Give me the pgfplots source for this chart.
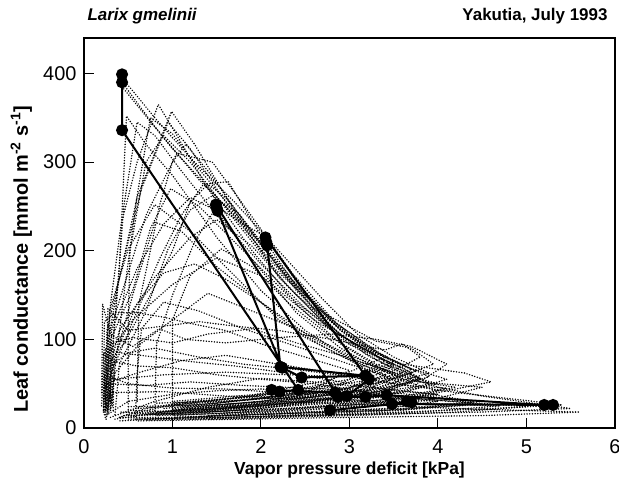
\documentclass[border=0pt]{standalone}
\usepackage{pgfplots}
\pgfplotsset{compat=1.18}
\usepackage{fontspec}
\setmainfont{Liberation Sans}

% one dotted diurnal course per measurement day
\pgfplotsset{
  day/.style={black, line width=1.6bp, line cap=round, dash pattern=on 0bp off 2.7bp, mark=none},
  sel/.style={black, line width=2bp, mark=*, mark size=5bp, mark options={solid, fill=black}},
}

\begin{document}
\begin{tikzpicture}
\path[use as bounding box] (-84bp,-62bp) rectangle (535bp,428bp);
\begin{axis}[
  name=ax,
  scale only axis,
  width=531bp, height=390bp,
  xmin=0, xmax=6, ymin=0, ymax=440,
  xtick={0,1,2,3,4,5,6},
  ytick={0,100,200,300,400},
  xtick pos=bottom, ytick pos=left,
  tick align=inside,
  major tick length=10bp,
  axis line style={line width=1.2bp},
  every tick/.style={black, line width=1bp},
  /pgf/number format/assume math mode=true,
  tick label style={font=\fontsize{20}{24}\selectfont},
  xticklabel style={yshift=-8bp},
  yticklabel style={xshift=-4bp},
  xlabel={Vapor pressure deficit [kPa]},
  ylabel={Leaf conductance [mmol m\textsuperscript{-2} s\textsuperscript{-1}]},
  xlabel style={at={(rel axis cs:0.5,0)}, anchor=base, yshift=-46bp,
                font=\fontsize{17.5}{20}\selectfont\bfseries},
  ylabel style={at={(rel axis cs:0,0.433)}, anchor=base, yshift=56bp,
                font=\fontsize{20}{24}\selectfont\bfseries},
]
\addplot[day] coordinates {(0.22,20)(0.24,75)(0.30,140)(0.42,230)(0.60,300)(0.84,365)(1.05,330)(1.40,270)(1.90,200)(2.40,140)(2.90,95)(3.30,70)(3.60,55)(3.00,35)(2.00,22)(1.00,16)(0.40,18)};
\addplot[day] coordinates {(0.25,28)(0.27,95)(0.38,160)(0.60,260)(0.99,357)(1.25,320)(1.70,245)(2.20,170)(2.70,120)(3.20,85)(3.60,68)(3.90,50)(3.20,32)(2.10,24)(1.10,18)(0.50,20)};
\addplot[day] coordinates {(0.43,390)(0.80,340)(1.30,280)(1.80,230)(2.07,215)(2.40,165)(2.90,110)(3.40,75)(3.80,55)(3.30,38)(2.30,28)(1.30,20)(0.60,16)};
\addplot[day] coordinates {(0.43,385)(1.00,315)(1.60,250)(2.10,190)(2.60,135)(3.10,95)(3.60,70)(4.10,55)(3.60,40)(2.60,30)(1.50,22)(0.70,18)};
\addplot[day] coordinates {(0.30,22)(0.32,90)(0.40,180)(0.48,352)(0.70,320)(1.00,285)(1.50,215)(2.00,155)(2.50,110)(3.00,78)(3.40,60)(2.80,38)(1.80,26)(0.80,18)};
\addplot[day] coordinates {(0.26,15)(0.30,60)(0.55,120)(0.85,190)(1.10,240)(1.35,275)(1.63,278)(1.95,225)(2.40,160)(2.90,110)(3.40,80)(3.90,58)(3.30,38)(2.30,27)(1.20,18)(0.50,14)};
\addplot[day] coordinates {(0.24,35)(0.26,110)(0.40,170)(0.65,270)(0.95,345)(1.20,315)(1.60,255)(2.15,180)(2.70,130)(3.30,98)(3.70,90)(3.95,72)(3.40,52)(2.40,38)(1.30,26)(0.50,24)};
\addplot[day] coordinates {(0.20,40)(0.21,140)(0.30,105)(0.55,92)(0.85,112)(1.15,100)(1.60,96)(2.20,102)(2.80,106)(3.30,100)(3.70,92)(4.10,72)(3.70,46)(2.70,32)(1.70,22)(0.80,15)};
\addplot[day] coordinates {(0.25,25)(0.26,82)(0.55,122)(1.00,162)(1.50,192)(2.00,172)(2.60,122)(3.10,92)(3.60,72)(4.30,62)(4.60,52)(3.80,36)(2.80,26)(1.50,16)};
\addplot[day] coordinates {(0.30,20)(0.35,62)(0.60,92)(1.00,122)(1.40,152)(1.90,132)(2.40,112)(3.00,82)(3.50,62)(4.00,46)(4.50,36)(5.50,22)(4.50,18)(3.00,15)(1.50,12)(0.60,10)};
\addplot[day] coordinates {(0.27,20)(0.30,52)(0.60,62)(1.10,76)(1.60,82)(2.20,72)(2.80,62)(3.40,52)(4.20,40)(5.00,31)(5.40,26)(4.40,21)(3.00,16)(1.60,12)(0.50,10)};
\addplot[day] coordinates {(0.35,15)(0.40,72)(0.70,132)(0.95,202)(1.20,246)(1.45,262)(1.75,242)(2.20,182)(2.70,122)(3.20,82)(3.60,62)(3.10,42)(2.10,28)(1.00,20)};
\addplot[day] coordinates {(0.25,20)(0.28,52)(0.55,150)(0.80,232)(1.10,222)(1.50,182)(2.00,142)(2.50,102)(3.10,72)(3.80,52)(4.50,46)(3.90,31)(2.90,25)(1.80,20)(0.70,15)};
\addplot[day] coordinates {(0.30,25)(0.45,150)(0.60,262)(0.75,350)(1.00,332)(1.30,292)(1.80,232)(2.30,172)(2.80,122)(3.30,86)(3.70,66)(3.00,45)(2.00,30)(1.00,20)};
\addplot[day] coordinates {(0.28,30)(0.29,132)(0.50,202)(0.80,252)(1.20,222)(1.70,172)(2.20,122)(2.70,92)(3.20,66)(3.60,50)(3.00,35)(2.00,25)(0.90,18)};
\addplot[day] coordinates {(0.58,10)(0.60,62)(0.65,112)(0.90,142)(1.30,132)(1.80,112)(2.40,92)(3.00,72)(3.50,56)(4.00,42)(3.50,28)(2.50,20)(1.40,14)};
\addplot[day] coordinates {(1.00,15)(1.00,122)(1.20,172)(1.55,202)(1.90,182)(2.30,142)(2.80,102)(3.30,72)(3.80,56)(3.30,40)(2.30,30)(1.50,22)};
\addplot[day] coordinates {(0.25,45)(0.30,96)(0.55,102)(1.00,96)(1.40,106)(1.90,112)(2.40,96)(2.90,82)(3.50,62)(3.20,42)(2.40,35)(1.50,30)(0.80,28)};
\addplot[day] coordinates {(0.30,12)(0.80,30)(1.40,46)(2.00,56)(2.60,52)(3.20,46)(3.80,40)(4.40,30)(3.60,20)(2.40,15)(1.20,10)};
\addplot[day] coordinates {(0.35,55)(0.90,60)(1.60,63)(2.30,60)(2.90,58)(3.60,55)(4.20,46)(3.40,30)(2.40,22)(1.30,18)};
\addplot[day] coordinates {(0.25,10)(0.30,40)(0.90,41)(1.60,36)(2.40,35)(3.00,32)(3.80,28)(4.70,25)(3.80,18)(2.60,14)(1.40,10)};
\addplot[day] coordinates {(0.50,18)(0.50,120)(0.52,200)(0.70,300)(0.90,330)(1.20,300)(1.70,235)(2.30,160)(2.90,105)(3.50,70)(3.00,45)(2.00,30)(1.00,22)};
\addplot[day] coordinates {(0.22,30)(0.23,120)(0.35,130)(0.60,130)(0.90,125)(1.20,118)(1.60,110)(2.00,95)(2.50,80)(3.00,65)(2.50,40)(1.50,28)(0.60,22)};
\addplot[day] coordinates {(0.28,18)(0.30,70)(0.50,85)(0.80,90)(1.30,80)(1.80,72)(2.40,66)(3.00,58)(3.60,48)(4.10,45)(3.40,32)(2.20,24)(1.20,16)(0.50,14)};
\addplot[day] coordinates {(0.32,25)(0.33,95)(0.45,250)(0.60,345)(0.80,330)(1.10,290)(1.50,240)(2.00,185)(2.50,135)(3.00,95)(3.50,72)(2.90,48)(1.90,32)(0.90,22)};
\addplot[day] coordinates {(0.26,22)(0.27,60)(0.40,110)(0.80,170)(1.20,215)(1.50,235)(1.90,205)(2.40,150)(2.90,100)(3.40,72)(3.80,56)(3.20,38)(2.20,28)(1.00,20)};
\addplot[day] coordinates {(0.24,12)(0.25,50)(0.70,48)(1.20,52)(1.80,48)(2.50,45)(3.20,42)(3.90,36)(4.40,28)(3.60,22)(2.40,18)(1.20,12)(0.40,8)};
\addplot[day] coordinates {(0.30,30)(0.30,100)(0.55,155)(0.75,225)(0.98,270)(1.30,250)(1.80,200)(2.30,150)(2.80,110)(3.30,82)(3.70,62)(3.10,45)(2.00,33)(1.00,26)};
\addplot[day] coordinates {(0.20,25)(0.22,85)(0.33,75)(0.60,70)(1.00,68)(1.50,60)(2.00,55)(2.60,50)(3.20,40)(3.80,33)(3.20,25)(2.00,18)(0.80,14)};
\addplot[day] coordinates {(0.80,20)(0.82,95)(1.00,150)(1.25,210)(1.50,250)(1.80,230)(2.30,170)(2.80,120)(3.20,90)(3.50,75)(3.00,55)(2.20,40)(1.40,30)};
\addplot[day] coordinates {(0.26,40)(0.27,135)(0.50,110)(0.90,115)(1.30,120)(1.70,115)(2.20,110)(2.80,100)(3.40,88)(3.60,95)(3.80,80)(3.30,55)(2.20,40)(1.00,30)};
\addplot[day] coordinates {(0.35,10)(0.90,18)(1.60,25)(2.20,30)(2.80,28)(3.50,25)(4.20,22)(4.90,20)(5.60,18)(4.50,14)(3.00,12)(1.80,10)(0.60,8)};
\addplot[day] coordinates {(0.43,395)(0.80,350)(1.20,305)(1.70,255)(2.20,200)(2.70,145)(3.10,105)(3.50,80)(3.90,62)(3.30,45)(2.30,32)};
\addplot[day] coordinates {(0.24,20)(0.25,70)(0.45,95)(0.75,150)(1.00,200)(1.20,255)(1.40,275)(1.60,260)(2.00,210)(2.50,150)(3.00,105)(3.40,80)(2.80,55)(1.80,35)(0.90,25)};
\addplot[day] coordinates {(0.60,30)(0.62,140)(0.75,200)(0.85,250)(1.00,300)(1.15,320)(1.40,290)(1.90,220)(2.40,155)(2.90,105)(3.40,75)(2.90,50)(1.90,35)(1.00,28)};
\addplot[day] coordinates {(0.28,16)(0.50,30)(1.00,38)(1.50,42)(2.00,44)(2.50,40)(3.00,38)(3.60,34)(4.20,30)(5.00,24)(4.20,18)(3.00,14)(1.80,11)(0.70,9)};
\addplot[day] coordinates {(0.23,15)(0.24,90)(0.40,85)(0.80,80)(1.20,75)(1.70,70)(2.30,62)(2.90,52)(3.50,42)(4.00,38)(3.30,28)(2.20,20)(1.00,14)};
\addplot[day] coordinates {(0.30,35)(0.31,110)(0.60,180)(0.90,230)(1.20,260)(1.50,245)(1.90,190)(2.40,130)(2.90,90)(3.30,68)(3.70,52)(3.10,40)(2.10,30)(1.10,24)};
\addplot[day] coordinates {(0.40,12)(0.70,22)(1.20,30)(1.80,34)(2.40,33)(3.00,30)(3.60,28)(4.30,26)(3.40,20)(2.20,16)(1.00,12)};
\addplot[day] coordinates {(0.27,25)(0.28,105)(0.70,240)(1.05,310)(1.45,300)(1.85,245)(2.35,175)(2.85,118)(3.35,84)(3.75,64)(3.20,44)(2.20,32)(1.10,22)};
\addplot[day] coordinates {(0.22,18)(0.23,60)(0.50,50)(1.00,45)(1.60,44)(2.20,40)(2.80,37)(3.40,34)(4.00,30)(3.40,22)(2.20,16)(1.00,12)(0.40,12)};
\addplot[day] coordinates {(0.33,20)(0.34,80)(0.60,140)(0.90,175)(1.25,185)(1.60,168)(2.10,135)(2.60,100)(3.10,75)(3.60,60)(4.00,50)(3.40,36)(2.40,27)(1.20,20)};
\addplot[day] coordinates {(0.45,14)(0.90,24)(1.50,32)(2.10,38)(2.70,42)(3.30,38)(3.90,32)(4.50,27)(3.70,21)(2.50,17)(1.30,13)};

% highlighted course with measured points
\addplot[sel] coordinates {
  (0.43,399)(0.43,390)(0.43,336)(2.42,43)(2.21,41)(2.12,43)
  (2.84,40)(1.49,252)(1.50,248)(1.51,245)(2.24,68)(2.46,57)(3.18,59)
  (2.05,215)(2.06,210)(2.07,206)(2.22,69)
  (3.18,59)(3.22,55)(2.97,36)(2.87,35)(3.18,35)(3.42,37)
  (5.20,26)(5.30,26)(3.48,27)(3.65,30)(3.70,29)(2.78,20)};
\end{axis}
\node[anchor=base west, font=\fontsize{17}{20}\selectfont\bfseries\itshape]
  at ([yshift=17bp]ax.north west) {Larix gmelinii};
\node[anchor=base east, font=\fontsize{17}{20}\selectfont\bfseries]
  at ([yshift=17bp, xshift=-4bp]ax.north east) {Yakutia, July 1993};
\end{tikzpicture}
\end{document}
